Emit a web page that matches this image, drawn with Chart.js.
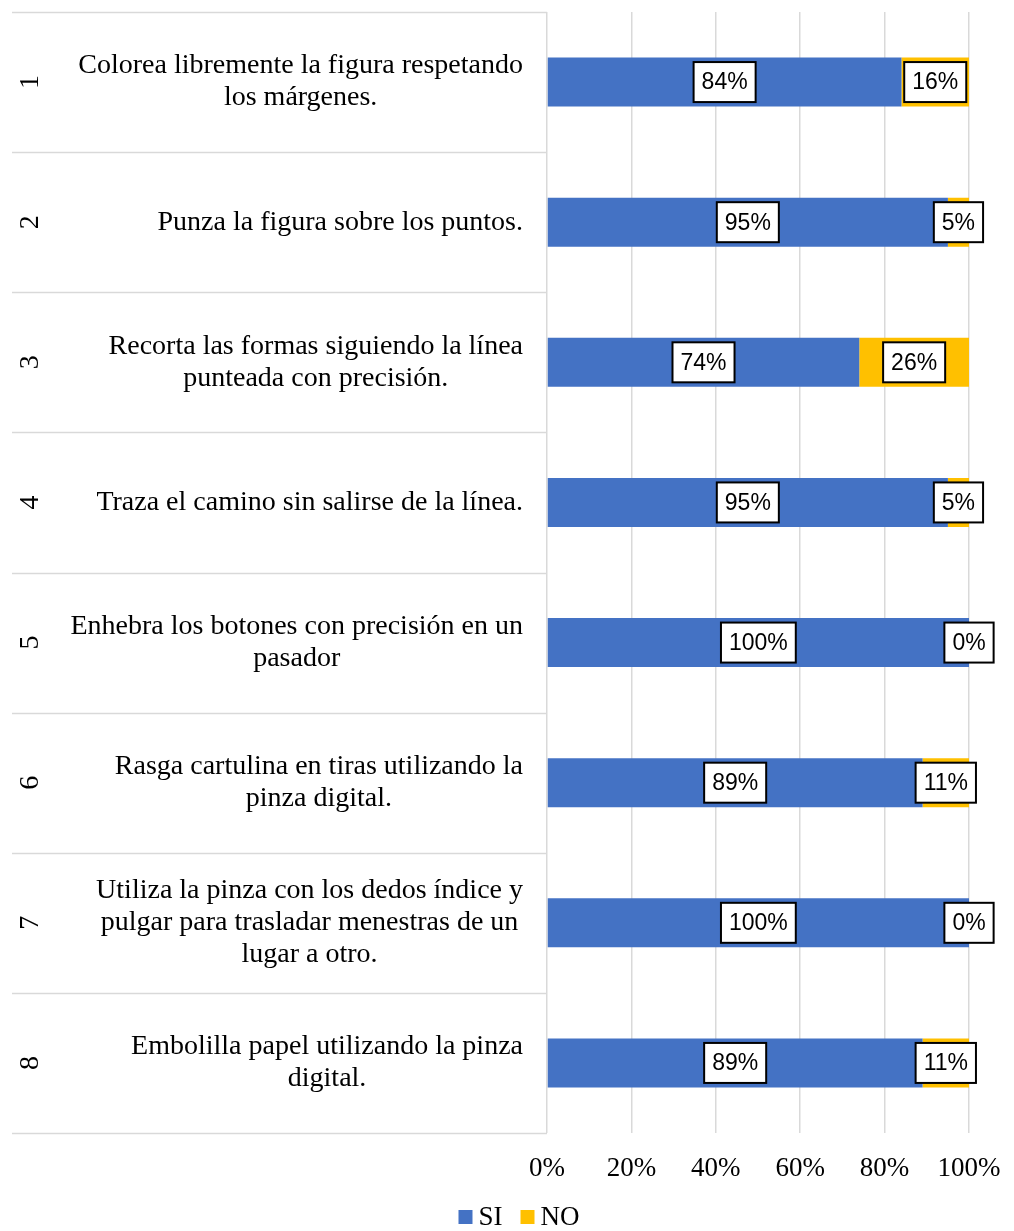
<!DOCTYPE html>
<html lang="es">
<head>
    <meta charset="UTF-8">
    <title>Motricidad fina</title>
    <style>
        body {
            margin: 0;
            background: #ffffff;
        }

        .container {
            width: 1014px;
            height: 1231px;
        }
    </style>
</head>
<body>
    <div class="container">
        <canvas id="myBarChart"></canvas>
    </div>

    <script src="https://cdn.jsdelivr.net/npm/chart.js"></script>
    <script>
        const itemNumbers = ['1', '2', '3', '4', '5', '6', '7', '8'];
        const itemTexts = [
            ['Colorea libremente la figura respetando', 'los márgenes.'],
            ['Punza la figura sobre los puntos.'],
            ['Recorta las formas siguiendo la línea', 'punteada con precisión.'],
            ['Traza el camino sin salirse de la línea.'],
            ['Enhebra los botones con precisión en un', 'pasador'],
            ['Rasga cartulina en tiras utilizando la', 'pinza digital.'],
            ['Utiliza la pinza con los dedos índice y', 'pulgar para trasladar menestras de un', 'lugar a otro.'],
            ['Embolilla papel utilizando la pinza', 'digital.']
        ];
        const siValues = [84, 95, 74, 95, 100, 89, 100, 89];
        const noValues = [16, 5, 26, 5, 0, 11, 0, 11];
        const xTicks = [0, 20, 40, 60, 80, 100];

        const serif = "'Liberation Serif', 'Times New Roman', serif";

        // Two-level category labels drawn on the left side
        const categoryLabels = {
            id: 'categoryLabels',
            afterDraw(chart) {
                const ctx = chart.ctx;
                const yScale = chart.scales.y;
                const area = chart.chartArea;
                const step = (area.bottom - area.top) / itemNumbers.length;

                ctx.save();
                // separators
                ctx.strokeStyle = '#D9D9D9';
                ctx.lineWidth = 1.5;
                for (let k = 0; k <= itemNumbers.length; k++) {
                    const y = Math.round(area.top + k * step) + 0.5;
                    ctx.beginPath();
                    ctx.moveTo(12, y);
                    ctx.lineTo(area.left, y);
                    ctx.stroke();
                }

                ctx.fillStyle = '#000000';
                ctx.font = '28px ' + serif;
                ctx.textBaseline = 'middle';
                itemNumbers.forEach((num, i) => {
                    const cy = yScale.getPixelForValue(i);

                    // rotated item number
                    ctx.save();
                    ctx.translate(31, cy);
                    ctx.rotate(-Math.PI / 2);
                    ctx.textAlign = 'center';
                    ctx.fillText(num, 0, 0);
                    ctx.restore();

                    // wrapped description, lines centred in a right-aligned block
                    const lines = itemTexts[i];
                    const lineHeight = 32;
                    const blockWidth = Math.max(...lines.map(l => ctx.measureText(l).width));
                    const cx = 523 - blockWidth / 2;
                    const y0 = cy - (lines.length - 1) * lineHeight / 2;
                    ctx.textAlign = 'center';
                    lines.forEach((line, j) => {
                        ctx.fillText(line, cx, y0 + j * lineHeight);
                    });
                });

                // legend under the axis
                ctx.font = '27px ' + serif;
                ctx.textAlign = 'left';
                const items = chart.data.datasets.map(ds => ({
                    text: ds.label,
                    color: ds.backgroundColor,
                    width: 14 + 6 + ctx.measureText(ds.label).width
                }));
                const gap = 18;
                const total = items.reduce((s, it) => s + it.width, 0) + gap * (items.length - 1);
                let x = 519 - total / 2;
                const ly = 1217;
                items.forEach(it => {
                    ctx.fillStyle = it.color;
                    ctx.fillRect(x, ly - 7, 14, 14);
                    ctx.fillStyle = '#000000';
                    ctx.fillText(it.text, x + 20, ly + 1);
                    x += it.width + gap;
                });
                ctx.restore();
            }
        };

        // White boxed value labels in the middle of each segment
        const boxedLabels = {
            id: 'boxedLabels',
            afterDatasetsDraw(chart) {
                const ctx = chart.ctx;
                ctx.save();
                ctx.font = "23px 'Liberation Sans', Arial, sans-serif";
                ctx.textAlign = 'center';
                ctx.textBaseline = 'middle';
                chart.data.datasets.forEach((ds, di) => {
                    const meta = chart.getDatasetMeta(di);
                    meta.data.forEach((bar, i) => {
                        const text = ds.data[i] + '%';
                        const cx = (bar.x + bar.base) / 2;
                        const cy = bar.y;
                        const w = ctx.measureText(text).width + 16;
                        const h = 40;
                        ctx.fillStyle = '#ffffff';
                        ctx.fillRect(cx - w / 2, cy - h / 2, w, h);
                        ctx.strokeStyle = '#000000';
                        ctx.lineWidth = 2;
                        ctx.strokeRect(cx - w / 2, cy - h / 2, w, h);
                        ctx.fillStyle = '#000000';
                        ctx.fillText(text, cx, cy + 1);
                    });
                });
                ctx.restore();
            }
        };

        const data = {
            labels: itemNumbers,
            datasets: [
                {
                    label: 'SI',
                    data: siValues,
                    backgroundColor: '#4472C4',
                    borderWidth: 0
                },
                {
                    label: 'NO',
                    data: noValues,
                    backgroundColor: '#FFC000',
                    borderWidth: 0
                }
            ]
        };

        const config = {
            type: 'bar',
            data: data,
            options: {
                indexAxis: 'y',
                responsive: true,
                maintainAspectRatio: false,
                animation: false,
                datasets: {
                    bar: {
                        categoryPercentage: 1,
                        barPercentage: 0.35
                    }
                },
                layout: {
                    padding: { top: 12, right: 45, bottom: 0, left: 0 }
                },
                scales: {
                    x: {
                        stacked: true,
                        min: 0,
                        max: 100,
                        afterBuildTicks(scale) {
                            scale.ticks = xTicks.map(v => ({ value: v }));
                        },
                        afterFit(scale) {
                            scale.height = 98;
                            scale.paddingLeft = 0;
                            scale.paddingRight = 0;
                        },
                        ticks: {
                            callback: v => v + '%',
                            color: '#000000',
                            padding: 20,
                            maxRotation: 0,
                            font: { family: serif, size: 27 }
                        },
                        grid: {
                            color: '#D9D9D9',
                            lineWidth: 1.5,
                            drawTicks: false
                        },
                        border: { display: false }
                    },
                    y: {
                        stacked: true,
                        ticks: { display: false },
                        grid: { display: false },
                        border: { display: false },
                        afterFit(scale) {
                            scale.width = 547;
                        }
                    }
                },
                plugins: {
                    legend: { display: false },
                    tooltip: { enabled: false }
                }
            },
            plugins: [categoryLabels, boxedLabels]
        };

        const ctx = document.getElementById('myBarChart').getContext('2d');
        new Chart(ctx, config);
    </script>
</body>
</html>
